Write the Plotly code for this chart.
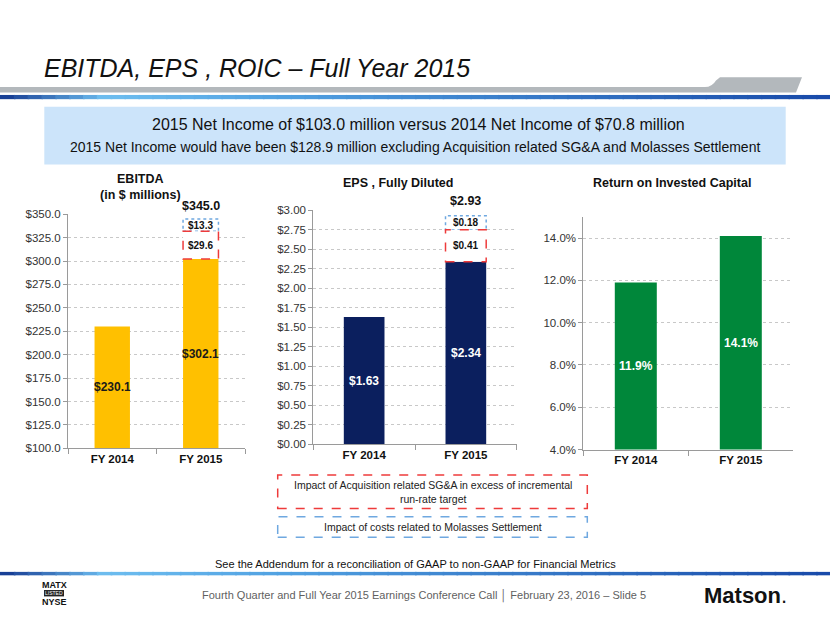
import plotly.graph_objects as go

W, H = 830, 623

# ---------------- data ----------------
years = ["FY 2014", "FY 2015"]
ebitda = [230.1, 302.1]
ebitda_sga = 29.6
ebitda_molasses = 13.3
eps = [1.63, 2.34]
eps_sga = 0.41
eps_molasses = 0.18
roic = [11.9, 14.1]

title_text = "EBITDA, EPS , ROIC \u2013 Full Year 2015"
headline1 = "2015 Net Income of $103.0 million versus 2014 Net Income of $70.8 million"
headline2 = ("2015 Net Income would have been $128.9 million excluding Acquisition "
             "related SG&A and Molasses Settlement")
legend_sga = "Impact of Acquisition related SG&A in excess of incremental<br>run-rate target"
legend_mol = "Impact of costs related to Molasses Settlement"
addendum = "See the Addendum for a reconciliation of GAAP to non-GAAP for Financial Metrics"
footer = "Fourth Quarter and Full Year 2015 Earnings Conference Call \u2502 February 23, 2016 \u2013 Slide 5"

FONT = "Liberation Sans, Arial, sans-serif"
NARROW = "Liberation Sans Narrow, Arial Narrow, Liberation Sans, Arial, sans-serif"
GOLD = "#FFC000"
NAVY = "#0B1F5E"
GREEN = "#00873A"
RED = "#EE3B3B"
LBLUE = "#6FA8E0"
BW = 0.4


def px(x):
    return x / W


def py(y):
    return 1 - y / H


fig = go.Figure()

fig.add_trace(go.Bar(x=years, y=ebitda, marker=dict(color=GOLD, line=dict(width=0)),
                     width=BW, xaxis="x", yaxis="y", hoverinfo="skip"))
fig.add_trace(go.Bar(x=years, y=eps, marker=dict(color=NAVY, line=dict(width=0)),
                     width=BW, xaxis="x2", yaxis="y2", hoverinfo="skip"))
fig.add_trace(go.Bar(x=years, y=roic, marker=dict(color=GREEN, line=dict(width=0)),
                     width=BW, xaxis="x3", yaxis="y3", hoverinfo="skip"))

shapes = []
annotations = []


def ann(**kw):
    kw.setdefault("showarrow", False)
    kw.setdefault("xanchor", "center")
    kw.setdefault("yanchor", "middle")
    annotations.append(kw)


# ---- stacked dashed boxes on FY2015 ----
def stack_boxes(xref, yref, base, sga, mol, fmt, total_shift):
    i = len(years) - 1
    x0, x1 = i - BW / 2, i + BW / 2
    top1 = base + sga
    top2 = top1 + mol
    shapes.append(dict(type="rect", xref=xref, yref=yref, x0=x0, x1=x1, y0=top1, y1=top2,
                       fillcolor="white", line=dict(color=LBLUE, width=1.5, dash="dot"),
                       layer="above"))
    shapes.append(dict(type="rect", xref=xref, yref=yref, x0=x0, x1=x1, y0=base, y1=top1,
                       fillcolor="white", line=dict(color=RED, width=1.5, dash="dash"),
                       layer="above"))
    ann(xref=xref, yref=yref, x=i, y=(base + top1) / 2,
        text="<b>" + fmt(sga) + "</b>", font=dict(family=FONT, size=10, color="#111"))
    ann(xref=xref, yref=yref, x=i, y=(top1 + top2) / 2,
        text="<b>" + fmt(mol) + "</b>", font=dict(family=FONT, size=10, color="#111"))
    ann(xref=xref, yref=yref, x=i, y=top2, yanchor="bottom", yshift=total_shift,
        text="<b>" + fmt(round(top2, 2)) + "</b>",
        font=dict(family=FONT, size=12.5, color="#111"))


stack_boxes("x", "y", ebitda[-1], ebitda_sga, ebitda_molasses, lambda v: f"${v:.1f}", 4)
stack_boxes("x2", "y2", eps[-1], eps_sga, eps_molasses, lambda v: f"${v:.2f}", 6)

EB_RANGE = [100, 350]
EPS_RANGE = [0, 3]
ROIC_RANGE = [4, 15]


# ---- value labels inside bars ----
def inside_labels(xref, yref, vals, rmin, fmt, color):
    for i, v in enumerate(vals):
        ann(xref=xref, yref=yref, x=i, y=(max(rmin, 0) + v) / 2,
            text="<b>" + fmt(v) + "</b>", font=dict(family=FONT, size=12, color=color))


inside_labels("x", "y", ebitda, EB_RANGE[0], lambda v: f"${v:.1f}", "#1a1a1a")
inside_labels("x2", "y2", eps, EPS_RANGE[0], lambda v: f"${v:.2f}", "white")
inside_labels("x3", "y3", roic, ROIC_RANGE[0], lambda v: f"{v:.1f}%", "white")

# ---- chart titles ----
ann(xref="paper", yref="paper", x=px(140), y=py(185),
    text="<b>EBITDA<br>(in $ millions)</b>", font=dict(family=FONT, size=12.5, color="#111"))
ann(xref="paper", yref="paper", x=px(398), y=py(180),
    text="<b>EPS , Fully Diluted</b>", font=dict(family=FONT, size=12.5, color="#111"))
ann(xref="paper", yref="paper", x=px(672), y=py(180),
    text="<b>Return on Invested Capital</b>", font=dict(family=FONT, size=12.5, color="#111"))

# ---- header ----
shapes.append(dict(type="path", xref="paper", yref="paper",
                   path=(f"M 0 {py(82.7)} L {px(705)} {py(82.7)} "
                         f"Q {px(712)} {py(82.7)} {px(716)} {py(76)} "
                         f"L {px(720)} {py(72.7)} L {px(802)} {py(72.7)} "
                         f"L {px(796)} {py(88.3)} L 0 {py(88.3)} Z"),
                   fillcolor="#B3B8BC", line=dict(width=0), layer="below"))


def grad_line(y0, y1, stops, n=60):
    for k in range(n):
        t = k / (n - 1)
        c = stops[-1][1]
        for j in range(len(stops) - 1):
            if stops[j][0] <= t <= stops[j + 1][0]:
                a, b = stops[j], stops[j + 1]
                f = (t - a[0]) / (b[0] - a[0]) if b[0] > a[0] else 0
                c = [int(a[1][m] + (b[1][m] - a[1][m]) * f) for m in range(3)]
                break
        shapes.append(dict(type="rect", xref="paper", yref="paper",
                           x0=k / n, x1=(k + 1) / n + 0.002, y0=py(y1), y1=py(y0),
                           fillcolor=f"rgb({c[0]},{c[1]},{c[2]})", line=dict(width=0),
                           layer="below"))


STOPS = [(0, (24, 64, 150)), (0.12, (110, 190, 240)), (0.35, (80, 160, 225)),
         (1, (25, 75, 170))]
grad_line(90.7, 95, STOPS)
grad_line(577, 580.5, STOPS)

ann(xref="paper", yref="paper", x=px(42), y=py(63), xanchor="left",
    text="<i>" + title_text + "</i>", font=dict(family=FONT, size=25, color="#111"))

# ---- headline box ----
shapes.append(dict(type="rect", xref="paper", yref="paper", x0=px(44.3), x1=px(785.7),
                   y0=py(161.7), y1=py(102.7), fillcolor="#CCE4FA", line=dict(width=0),
                   layer="below"))
ann(xref="paper", yref="paper", x=px(418), y=py(120.5),
    text=headline1, font=dict(family=FONT, size=16, color="#111"))
ann(xref="paper", yref="paper", x=px(414.5), y=py(143.5),
    text=headline2, font=dict(family=FONT, size=14, color="#111"))

# ---- legend boxes ----
shapes.append(dict(type="rect", xref="paper", yref="paper", x0=px(277.7), x1=px(587.3),
                   y0=py(512.3), y1=py(478.3), line=dict(color=RED, width=1.5, dash="dash")))
shapes.append(dict(type="rect", xref="paper", yref="paper", x0=px(277.7), x1=px(587.3),
                   y0=py(541.7), y1=py(520.7), line=dict(color=LBLUE, width=1.5, dash="dash")))
ann(xref="paper", yref="paper", x=px(432.5), y=py(495.5),
    text=legend_sga, font=dict(family=FONT, size=10.5, color="#222"))
ann(xref="paper", yref="paper", x=px(432.5), y=py(531.5),
    text=legend_mol, font=dict(family=FONT, size=10.5, color="#222"))
ann(xref="paper", yref="paper", x=px(415), y=py(569),
    text=addendum, font=dict(family=FONT, size=11, color="#111"))

# ---- footer ----
ann(xref="paper", yref="paper", x=px(424), y=py(601),
    text=footer, font=dict(family=NARROW, size=11, color="#5f5f5f"))
ann(xref="paper", yref="paper", x=px(745), y=py(601),
    text="<b>Matson</b>.", font=dict(family=NARROW, size=22, color="#111"))
ann(xref="paper", yref="paper", x=px(54), y=py(590),
    text="<b>MATX</b>", font=dict(family=NARROW, size=9, color="#111"))
shapes.append(dict(type="rect", xref="paper", yref="paper", x0=px(44), x1=px(64),
                   y0=py(602), y1=py(595.5), fillcolor="#222", line=dict(width=0)))
ann(xref="paper", yref="paper", x=px(54), y=py(598.8),
    text="LISTED", font=dict(family=NARROW, size=5, color="white"))
ann(xref="paper", yref="paper", x=px(54), y=py(607.5),
    text="<b>NYSE</b>", font=dict(family=NARROW, size=9, color="#111"))


# ---- axes ----
def xaxis(domain, anchor):
    return dict(domain=domain, anchor=anchor, type="category", showline=True,
                linecolor="#9A9A9A", linewidth=1, ticks="outside", tickson="boundaries",
                ticklen=5, tickcolor="#9A9A9A", showgrid=False, fixedrange=True,
                tickfont=dict(family=FONT, size=11.5, color="#111"),
                tickprefix="<b>", ticksuffix="</b>")


def yaxis(domain, anchor, rng, dtick, prefix, suffix, fmt, tick0=0):
    return dict(domain=domain, anchor=anchor, range=rng, dtick=dtick, tick0=tick0,
                tickprefix=prefix, ticksuffix=suffix, tickformat=fmt,
                showline=True, linecolor="#9A9A9A", linewidth=1, ticks="outside",
                ticklen=4, tickcolor="#9A9A9A", showgrid=True, gridcolor="#C8C8C8",
                griddash="dot", gridwidth=1, zeroline=False, fixedrange=True,
                tickfont=dict(family=FONT, size=11.5, color="#333"))


fig.update_layout(
    width=W, height=H,
    margin=dict(l=0, r=0, t=0, b=0),
    paper_bgcolor="white", plot_bgcolor="rgba(0,0,0,0)",
    showlegend=False, barmode="overlay",
    xaxis=xaxis([px(68), px(245)], "y"),
    yaxis=yaxis([py(451), py(212.3)], "x", EB_RANGE, 25, "$", "", ".1f"),
    xaxis2=xaxis([px(313.3), px(516.7)], "y2"),
    yaxis2=yaxis([py(446.7), py(208.3)], "x2", EPS_RANGE, 0.25, "$", "", ".2f"),
    xaxis3=xaxis([px(583.3), px(793.3)], "y3"),
    yaxis3=yaxis([py(452.3), py(215)], "x3", ROIC_RANGE, 2, "", "%", ".1f", tick0=4),
    shapes=shapes, annotations=annotations,
)

fig.write_html("out.html", config={"displayModeBar": False})
